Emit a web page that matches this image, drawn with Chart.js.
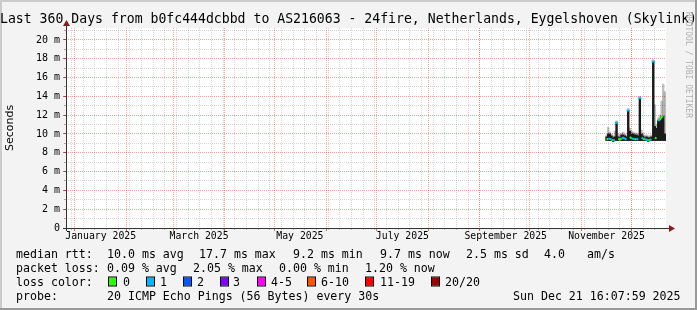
<!DOCTYPE html>
<html lang="en">
<head>
<meta charset="UTF-8">
<title>Last 360 Days</title>
<script src="https://cdn.jsdelivr.net/npm/chart.js@4.4.1/dist/chart.umd.min.js"></script>
<style>
    html, body { margin: 0; padding: 0; background: #f3f3f3; }
    canvas { display: block; }
</style>
</head>
<body>
<canvas id="grafico" width="697" height="310"></canvas>

<script>
// time axis in days counted from Jan 1 2025 00:00
var inicio = -5.33;   // Fri Dec 26 2024 16:07
var fim = 354.67;     // Sun Dec 21 2025 16:07

var dias       = [319, 320, 321, 322, 323, 324, 325, 326, 327, 328, 329, 330, 331, 332, 333, 334, 335, 336,
                  337, 338, 339, 340, 341, 342, 343, 344, 345, 346, 347, 348, 349, 350, 351, 352, 353, 354];
var mediana    = [9.4, 9.5, 9.5, 9.4, 9.3, 9.4, 11.2, 9.5, 9.4, 9.5, 9.6, 9.5, 9.4, 12.5, 9.7, 9.5, 9.5, 9.4,
                  9.5, 9.4, 13.8, 9.6, 9.5, 9.4, 9.4, 9.3, 9.4, 9.4, 17.7, 9.6, 9.5, 11.4, 11.5, 11.8, 11.9, 9.7];
var perdas     = [0, 0, 1, 1, 0, 1, 1, 1, 0, 0, 1, 1, 1, 1, 1, 0, 1, 1,
                  0, 1, 1, 1, 1, 0, 1, 1, 0, 1, 1, 0, 0, 1, 1, 0, 0, 1];
var fumacaBaixo = [9.3, 9.3, 9.3, 9.3, 9.2, 9.3, 9.3, 9.3, 9.3, 9.3, 9.3, 9.3, 9.3, 9.3, 9.3, 9.3, 9.3, 9.3,
                  9.3, 9.3, 9.3, 9.3, 9.3, 9.3, 9.3, 9.2, 9.3, 9.3, 9.3, 9.3, 9.3, 9.3, 9.3, 9.3, 9.3, 9.3];
var fumacaAlto = [9.7, 10.0, 10.0, 9.8, 9.6, 9.7, 11.2, 9.7, 9.6, 9.9, 9.9, 9.8, 9.7, 12.5, 10.3, 10.0, 10.0, 9.9,
                  9.9, 9.8, 13.8, 10.0, 9.8, 9.6, 9.7, 9.6, 9.6, 9.7, 17.7, 10.8, 10.6, 11.4, 11.5, 11.8, 11.9, 10.0];
var fumacaCinza = [9.9, 10.7, 10.2, 10.0, 9.8, 10.3, 11.4, 10.0, 9.9, 10.1, 10.2, 10.0, 9.9, 12.7, 10.6, 10.3, 10.2, 10.1,
                  10.1, 10.0, 14.0, 10.4, 10.1, 9.8, 9.9, 9.8, 9.8, 9.9, 17.9, 13.1, 11.0, 11.7, 12.0, 13.5, 15.3, 14.5];

var inicioMeses = [0, 31, 59, 90, 120, 151, 181, 212, 243, 273, 304, 334];
var rotulosMeses = ['January 2025', 'March 2025', 'May 2025', 'July 2025', 'September 2025', 'November 2025'];
var meioMeses = [15.5, 74.5, 135, 196.5, 258.5, 319];
var ticksY = [0, 2, 4, 6, 8, 10, 12, 14, 16, 18, 20];
var rotulosY = ['0', '2 m', '4 m', '6 m', '8 m', '10 m', '12 m', '14 m', '16 m', '18 m', '20 m'];

var coresPerda = ['#26ff00', '#00b8ff', '#0059ff', '#7e00ff', '#ff00ff', '#ff5500', '#ff0000', '#a10000'];
var nomesPerda = ['0', '1', '2', '3', '4-5', '6-10', '11-19', '20/20'];

// weekly grid (mondays) and 1 m minor grid
var semanas = [];
for (var s = -2; s <= fim; s += 7) semanas.push(s);
var ticksYMenor = [];
for (var v = 1; v <= 21; v++) ticksYMenor.push(v);

var linhasLegenda = [
    [[16, 'median rtt:'], [107, '10.0 ms avg'], [199, '17.7 ms max'], [293, '9.2 ms min'], [380, '9.7 ms now'], [466, '2.5 ms sd'], [544, '4.0'], [587, 'am/s']],
    [[16, 'packet loss:'], [107, '0.09 % avg'], [193, '2.05 % max'], [279, '0.00 % min'], [365, '1.20 % now']],
    [[16, 'loss color:']],
    [[16, 'probe:'], [107, '20 ICMP Echo Pings (56 Bytes) every 30s'], [513, 'Sun Dec 21 16:07:59 2025']]
];
var caixasPerda = [108, 146, 183, 220, 257, 307, 365, 431];
var textosPerda = [123, 160, 197, 233, 271, 321, 380, 445];

function ehPico(i) {
    if (i <= 0 || i >= mediana.length - 1) return false;
    return mediana[i] - mediana[i - 1] > 1 && mediana[i] - mediana[i + 1] > 1;
}

var moldura = {
    id: 'moldura',
    beforeDraw: function (chart) {
        var c = chart.ctx, a = chart.chartArea, w = chart.width, h = chart.height;
        c.save();
        c.fillStyle = '#f3f3f3';
        c.fillRect(0, 0, w, h);
        c.fillStyle = '#cbcbcb';
        c.fillRect(0, 0, w, 2);
        c.fillRect(0, 0, 2, h);
        c.fillStyle = '#999999';
        c.fillRect(w - 2, 0, 2, h);
        c.fillRect(0, h - 2, w, 2);
        c.fillStyle = '#ffffff';
        c.fillRect(a.left, a.top, a.right - a.left, a.bottom - a.top);
        c.restore();
    },
    afterDraw: function (chart) {
        var c = chart.ctx, a = chart.chartArea;
        c.save();
        // axis lines + arrows
        c.strokeStyle = '#333333';
        c.lineWidth = 1;
        c.beginPath();
        c.moveTo(a.left - 3, a.bottom + 0.5);
        c.lineTo(a.right + 3, a.bottom + 0.5);
        c.moveTo(a.left + 0.5, a.bottom + 3);
        c.lineTo(a.left + 0.5, a.top - 3);
        c.stroke();
        c.fillStyle = '#8b1a1a';
        c.beginPath();
        c.moveTo(a.right + 9, a.bottom + 0.5);
        c.lineTo(a.right + 3, a.bottom - 3);
        c.lineTo(a.right + 3, a.bottom + 4);
        c.closePath();
        c.fill();
        c.beginPath();
        c.moveTo(a.left + 0.5, a.top - 8);
        c.lineTo(a.left - 3, a.top - 2);
        c.lineTo(a.left + 4, a.top - 2);
        c.closePath();
        c.fill();

        // watermark
        c.save();
        c.translate(688, 12);
        c.rotate(Math.PI / 2);
        c.font = '8px "DejaVu Sans Mono"';
        c.fillStyle = '#b0b0b0';
        c.textBaseline = 'middle';
        c.fillText('RRDTOOL / TOBI OETIKER', 0, 0);
        c.restore();

        // legend
        c.font = '11.6px "DejaVu Sans Mono"';
        c.fillStyle = '#000000';
        c.textBaseline = 'alphabetic';
        var y0 = 257.5;
        linhasLegenda.forEach(function (linha, n) {
            linha.forEach(function (p) { c.fillText(p[1], p[0], y0 + n * 14); });
        });
        var yc = y0 + 2 * 14;
        for (var k = 0; k < coresPerda.length; k++) {
            c.fillStyle = coresPerda[k];
            c.fillRect(caixasPerda[k], yc - 8, 8, 8);
            c.strokeStyle = '#000000';
            c.strokeRect(caixasPerda[k] + 0.5, yc - 8.5, 8, 9);
            c.fillStyle = '#000000';
            c.fillText(nomesPerda[k], textosPerda[k], yc);
        }
        c.restore();
    }
};

Chart.defaults.font.family = '"DejaVu Sans Mono"';
Chart.defaults.color = '#000000';

var pontosMediana = dias.map(function (d, i) { return { x: d, y: mediana[i] }; });

var ctx = document.getElementById('grafico').getContext('2d');
var grafico = new Chart(ctx, {
    data: {
        datasets: [
            {
                type: 'bar',
                data: dias.map(function (d, i) { return { x: d, y: [fumacaBaixo[i], fumacaCinza[i]] }; }),
                backgroundColor: 'rgba(0, 0, 0, 0.25)',
                grouped: false,
                barPercentage: 1,
                categoryPercentage: 1,
                borderWidth: 0,
                order: 3
            },
            {
                type: 'bar',
                data: dias.map(function (d, i) { return { x: d, y: [fumacaBaixo[i], fumacaAlto[i]] }; }),
                backgroundColor: '#1a1a1a',
                grouped: false,
                barPercentage: 1,
                categoryPercentage: 1,
                borderWidth: 0,
                order: 2
            },
            {
                type: 'line',
                data: pontosMediana,
                borderColor: coresPerda[1],
                borderWidth: 2,
                tension: 0,
                pointStyle: 'line',
                pointRadius: function (c) { return ehPico(c.dataIndex) ? 1.6 : 0; },
                pointBorderWidth: 2,
                pointBorderColor: function (c) { return coresPerda[perdas[c.dataIndex]]; },
                segment: {
                    borderColor: function (c) {
                        if (Math.abs(c.p1.parsed.y - c.p0.parsed.y) > 1) return 'rgba(0,0,0,0)';
                        return coresPerda[perdas[c.p1DataIndex]];
                    }
                },
                order: 0
            }
        ]
    },
    options: {
        responsive: false,
        animation: false,
        events: [],
        layout: { padding: 0 },
        plugins: {
            legend: { display: false },
            tooltip: { enabled: false },
            title: {
                display: true,
                text: 'Last 360 Days from b0fc444dcbbd to AS216063 - 24fire, Netherlands, Eygelshoven (Skylink)',
                font: { family: '"DejaVu Sans Mono"', size: 13.3, weight: 'normal' },
                color: '#000000',
                padding: { top: 12, bottom: 0 }
            }
        },
        scales: {
            xSemana: {
                type: 'linear', position: 'bottom', min: inicio, max: fim, weight: 0,
                afterBuildTicks: function (s) { s.ticks = semanas.map(function (v) { return { value: v }; }); },
                afterFit: function (s) { s.height = 0; },
                ticks: { display: false },
                border: { display: false, dash: [1, 1] },
                grid: { color: 'rgba(150,150,150,0.4)', tickLength: 2, tickColor: 'rgba(140,140,140,0.6)', z: -2 }
            },
            xMes: {
                type: 'linear', position: 'bottom', min: inicio, max: fim, weight: 0,
                afterBuildTicks: function (s) { s.ticks = inicioMeses.map(function (v) { return { value: v }; }); },
                afterFit: function (s) { s.height = 0; },
                ticks: { display: false },
                border: { display: false, dash: [1, 1] },
                grid: { color: 'rgba(255,0,0,0.38)', tickLength: 3, tickColor: 'rgba(220,0,0,0.6)', z: -1 }
            },
            x: {
                type: 'linear', position: 'bottom', min: inicio, max: fim, weight: 1, offset: false,
                afterBuildTicks: function (s) { s.ticks = meioMeses.map(function (v) { return { value: v }; }); },
                afterFit: function (s) { s.height = 82; },
                grid: { display: false, drawTicks: false, offset: false },
                border: { display: false },
                ticks: {
                    autoSkip: false, maxRotation: 0, padding: 3,
                    font: { size: 9.8 },
                    callback: function (v, i) { return rotulosMeses[i]; }
                }
            },
            yMenor: {
                type: 'linear', position: 'left', min: 0, max: 21.277, weight: 0,
                afterBuildTicks: function (s) { s.ticks = ticksYMenor.map(function (v) { return { value: v }; }); },
                afterFit: function (s) { s.width = 0; },
                ticks: { display: false },
                border: { display: false, dash: [1, 1] },
                grid: {
                    color: function (c) { return c.tick && c.tick.value % 2 === 0 ? 'rgba(0,0,0,0)' : 'rgba(150,150,150,0.4)'; },
                    tickLength: 2, tickColor: 'rgba(120,120,120,0.6)', z: -2
                }
            },
            y: {
                type: 'linear', position: 'left', min: 0, max: 21.277, weight: 1,
                afterBuildTicks: function (s) { s.ticks = ticksY.map(function (v) { return { value: v }; }); },
                afterFit: function (s) { s.width = 66; },
                border: { display: false, dash: [1, 1] },
                grid: { color: 'rgba(255,0,0,0.38)', tickLength: 3, tickColor: 'rgba(180,0,0,0.6)', z: -1 },
                ticks: {
                    padding: 3,
                    font: { size: 10 },
                    callback: function (v, i) { return rotulosY[i]; }
                },
                title: {
                    display: true, text: 'Seconds',
                    font: { family: '"DejaVu Sans"', size: 11 },
                    padding: { top: 3.5, bottom: 0 }
                }
            },
            yDireita: {
                type: 'linear', position: 'right', min: 0, max: 21.277,
                afterFit: function (s) { s.width = 31; },
                ticks: { display: false },
                grid: { display: false },
                border: { display: false }
            }
        }
    },
    plugins: [moldura]
});
</script>
</body>
</html>
